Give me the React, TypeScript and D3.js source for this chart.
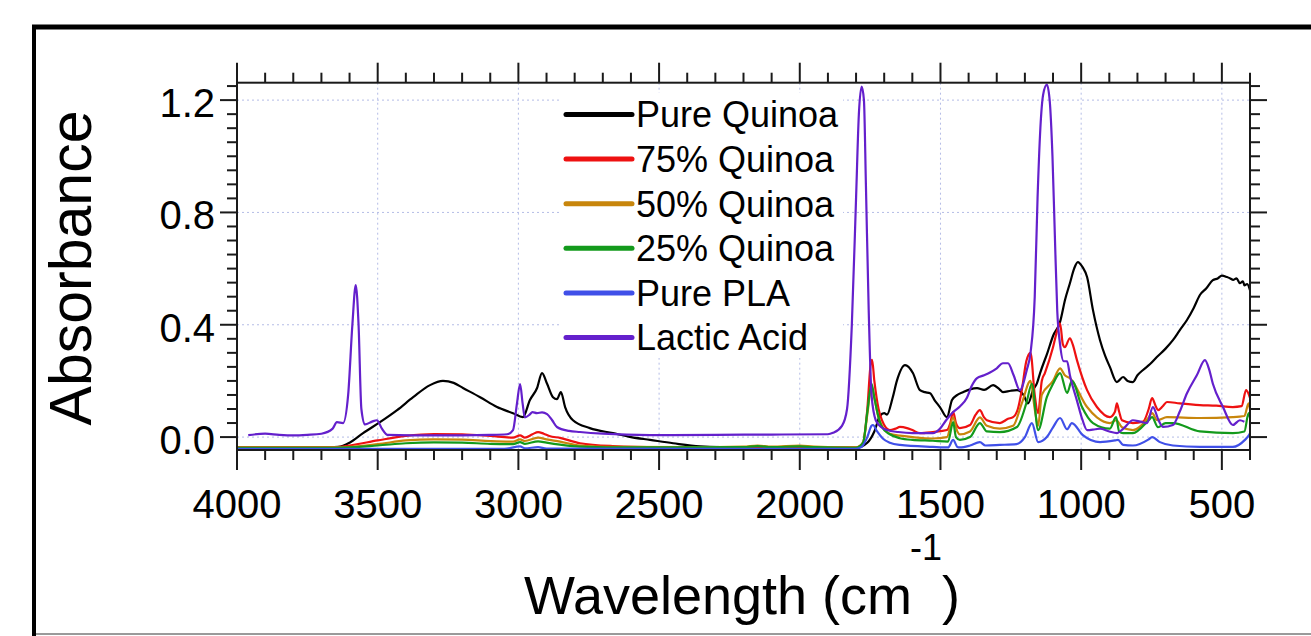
import React from 'react';
import * as d3 from 'd3';

// FTIR spectra: [wavenumber cm-1, absorbance]
const pureQuinoa: [number, number][] = [
  [4000, -0.037], [3700, -0.037], [3640, -0.035], [3600, -0.02], [3552, 0.014], [3492, 0.053],
  [3431, 0.096], [3374, 0.142], [3314, 0.185], [3268, 0.2], [3230, 0.193], [3197, 0.175],
  [3136, 0.142], [3076, 0.107], [3019, 0.085], [2984, 0.071], [2959, 0.132], [2934, 0.174],
  [2916, 0.228], [2898, 0.19], [2877, 0.142], [2863, 0.135], [2849, 0.16], [2834, 0.107],
  [2806, 0.06], [2746, 0.032], [2664, 0.014], [2600, 0.0], [2532, -0.01], [2450, -0.022],
  [2355, -0.033], [2200, -0.037], [1800, -0.038], [1760, -0.02], [1735, 0.02], [1715, 0.075],
  [1700, 0.085], [1690, 0.08], [1670, 0.14], [1655, 0.2], [1626, 0.256], [1598, 0.228],
  [1573, 0.167], [1555, 0.16], [1537, 0.156], [1520, 0.13], [1502, 0.107], [1477, 0.071],
  [1459, 0.132], [1440, 0.15], [1420, 0.16], [1395, 0.17], [1370, 0.174], [1345, 0.168],
  [1313, 0.185], [1290, 0.17], [1278, 0.16], [1250, 0.165], [1228, 0.167], [1205, 0.15],
  [1189, 0.12], [1170, 0.17], [1157, 0.192], [1146, 0.228], [1120, 0.3], [1100, 0.36],
  [1075, 0.41], [1057, 0.49], [1040, 0.548], [1025, 0.6], [1012, 0.623], [995, 0.605],
  [979, 0.57], [958, 0.452], [933, 0.345], [915, 0.29], [898, 0.25], [873, 0.196],
  [851, 0.214], [835, 0.2], [816, 0.196], [800, 0.22], [780, 0.239], [755, 0.26],
  [731, 0.285], [700, 0.315], [674, 0.345], [650, 0.38], [624, 0.417], [600, 0.46],
  [578, 0.506], [555, 0.53], [532, 0.559], [515, 0.565], [500, 0.575], [482, 0.57],
  [470, 0.565], [460, 0.56], [448, 0.565], [436, 0.548], [425, 0.555], [420, 0.54],
  [410, 0.545], [400, 0.523],
];

const quinoa75: [number, number][] = [
  [4000, -0.036], [3650, -0.036], [3600, -0.03], [3500, -0.012], [3400, 0.004], [3300, 0.011],
  [3200, 0.01], [3100, 0.004], [3019, -0.002], [2994, 0.006], [2977, -0.002], [2950, 0.01],
  [2930, 0.018], [2910, 0.012], [2890, 0.004], [2852, -0.003], [2781, -0.022], [2664, -0.032],
  [2500, -0.036], [2000, -0.037], [1800, -0.037], [1775, -0.02], [1760, 0.1], [1748, 0.26],
  [1743, 0.275], [1735, 0.2], [1720, 0.1], [1708, 0.06], [1680, 0.025], [1660, 0.03],
  [1644, 0.036], [1619, 0.032], [1600, 0.025], [1573, 0.014], [1527, 0.018], [1477, 0.025],
  [1465, 0.05], [1455, 0.09], [1445, 0.05], [1431, 0.032], [1395, 0.043], [1375, 0.08],
  [1360, 0.096], [1345, 0.07], [1335, 0.06], [1289, 0.05], [1260, 0.065], [1242, 0.071],
  [1225, 0.1], [1211, 0.167], [1195, 0.27], [1180, 0.3], [1165, 0.15], [1153, 0.085],
  [1140, 0.2], [1129, 0.228], [1100, 0.32], [1085, 0.38], [1075, 0.405], [1065, 0.33],
  [1058, 0.32], [1040, 0.352], [1030, 0.33], [1015, 0.274], [979, 0.167], [944, 0.107],
  [898, 0.071], [880, 0.09], [873, 0.12], [865, 0.09], [855, 0.06], [816, 0.05],
  [780, 0.055], [760, 0.1], [748, 0.139], [735, 0.11], [727, 0.096], [710, 0.11],
  [695, 0.125], [650, 0.12], [578, 0.114], [520, 0.112], [461, 0.107], [430, 0.11],
  [414, 0.167], [400, 0.14],
];

const quinoa50: [number, number][] = [
  [4000, -0.037], [3650, -0.037], [3500, -0.025], [3400, -0.012], [3300, -0.008], [3200, -0.009],
  [3100, -0.014], [3019, -0.016], [2994, -0.008], [2977, -0.014], [2930, -0.002], [2900, -0.008],
  [2852, -0.016], [2781, -0.03], [2664, -0.035], [2400, -0.036], [2200, -0.034], [2150, -0.03],
  [2100, -0.034], [2000, -0.03], [1950, -0.034], [1800, -0.037], [1775, -0.02], [1760, 0.08],
  [1745, 0.18], [1735, 0.14], [1720, 0.07], [1708, 0.04], [1680, 0.012], [1644, 0.005],
  [1600, 0.0], [1527, -0.005], [1477, 0.0], [1455, 0.07], [1440, 0.02], [1431, 0.01],
  [1395, 0.02], [1360, 0.07], [1335, 0.04], [1289, 0.03], [1242, 0.04], [1211, 0.12],
  [1180, 0.2], [1165, 0.1], [1153, 0.04], [1140, 0.15], [1100, 0.2], [1075, 0.245],
  [1058, 0.22], [1040, 0.21], [979, 0.107], [944, 0.07], [898, 0.05], [875, 0.06],
  [855, 0.035], [816, 0.025], [760, 0.07], [748, 0.085], [730, 0.06], [695, 0.071],
  [578, 0.068], [461, 0.071], [420, 0.075], [405, 0.12], [400, 0.1],
];

const quinoa25: [number, number][] = [
  [4000, -0.038], [3650, -0.038], [3500, -0.03], [3400, -0.022], [3300, -0.019], [3200, -0.02],
  [3100, -0.024], [3019, -0.025], [2994, -0.018], [2977, -0.024], [2930, -0.015], [2900, -0.02],
  [2852, -0.027], [2781, -0.034], [2600, -0.037], [2200, -0.036], [2150, -0.032], [2100, -0.036],
  [2000, -0.033], [1950, -0.036], [1800, -0.038], [1775, -0.02], [1760, 0.09], [1745, 0.19],
  [1735, 0.14], [1720, 0.07], [1708, 0.036], [1680, 0.01], [1644, -0.004], [1600, -0.01],
  [1527, -0.013], [1473, -0.016], [1455, 0.053], [1445, 0.0], [1431, -0.01], [1395, 0.0],
  [1360, 0.05], [1335, 0.02], [1289, 0.018], [1228, 0.036], [1195, 0.12], [1175, 0.19],
  [1153, 0.025], [1122, 0.142], [1100, 0.19], [1075, 0.228], [1050, 0.157], [1033, 0.2],
  [997, 0.107], [958, 0.05], [898, 0.03], [876, 0.071], [865, 0.02], [851, 0.014],
  [816, 0.014], [760, 0.06], [748, 0.071], [727, 0.035], [700, 0.05], [674, 0.05],
  [578, 0.02], [461, 0.014], [420, 0.02], [405, 0.085], [400, 0.07],
];

const purePLA: [number, number][] = [
  [4000, -0.042], [3050, -0.042], [2994, -0.033], [2977, -0.04], [2930, -0.036], [2900, -0.041],
  [1800, -0.042], [1780, -0.035], [1760, 0.0], [1745, 0.04], [1740, 0.043], [1725, 0.02],
  [1705, -0.005], [1680, -0.02], [1644, -0.028], [1527, -0.035], [1473, -0.037], [1455, -0.01],
  [1440, -0.035], [1431, -0.037], [1395, -0.03], [1360, -0.018], [1340, -0.03], [1289, -0.028],
  [1230, -0.025], [1200, 0.0], [1175, 0.05], [1153, -0.018], [1122, 0.0], [1100, 0.035],
  [1075, 0.068], [1050, 0.028], [1033, 0.05], [994, 0.007], [933, -0.018], [880, -0.012],
  [869, -0.01], [851, -0.028], [816, -0.03], [760, -0.008], [748, 0.0], [720, -0.018],
  [674, -0.03], [578, -0.035], [461, -0.035], [418, -0.01], [405, 0.005], [400, 0.014],
];

const lacticAcid: [number, number][] = [
  [3960, 0.007], [3900, 0.012], [3850, 0.008], [3800, 0.006], [3750, 0.008], [3700, 0.012],
  [3660, 0.03], [3645, 0.053], [3623, 0.05], [3605, 0.15], [3590, 0.4], [3578, 0.541],
  [3568, 0.4], [3558, 0.1], [3545, 0.045], [3520, 0.055], [3503, 0.06], [3485, 0.03],
  [3465, 0.008], [3300, 0.006], [3100, 0.008], [3040, 0.01], [3019, 0.025], [3005, 0.12],
  [2994, 0.189], [2985, 0.12], [2977, 0.07], [2960, 0.08], [2950, 0.089], [2934, 0.085],
  [2916, 0.088], [2898, 0.082], [2880, 0.06], [2863, 0.036], [2820, 0.022], [2781, 0.018],
  [2700, 0.012], [2532, 0.007], [2300, 0.008], [2100, 0.009], [1900, 0.01], [1882, 0.015],
  [1850, 0.04], [1832, 0.1], [1815, 0.4], [1800, 0.85], [1790, 1.15], [1780, 1.248],
  [1772, 1.2], [1765, 0.9], [1755, 0.45], [1745, 0.15], [1730, 0.06], [1710, 0.035],
  [1690, 0.025], [1650, 0.018], [1600, 0.014], [1527, 0.014], [1502, 0.03], [1480, 0.06],
  [1455, 0.089], [1430, 0.11], [1406, 0.14], [1390, 0.18], [1370, 0.21], [1345, 0.22],
  [1324, 0.23], [1300, 0.245], [1278, 0.263], [1260, 0.263], [1240, 0.22], [1218, 0.167],
  [1193, 0.24], [1180, 0.3], [1165, 0.5], [1155, 0.85], [1145, 1.1], [1135, 1.22],
  [1122, 1.255], [1112, 1.2], [1102, 1.0], [1093, 0.7], [1085, 0.45], [1075, 0.33],
  [1062, 0.27], [1050, 0.27], [1040, 0.22], [1015, 0.13], [995, 0.06], [979, 0.025],
  [950, 0.028], [933, 0.03], [900, 0.02], [873, 0.014], [850, 0.03], [816, 0.06],
  [790, 0.055], [766, 0.05], [745, 0.107], [725, 0.06], [709, 0.036], [674, 0.043],
  [650, 0.09], [624, 0.156], [589, 0.22], [560, 0.274], [545, 0.24], [532, 0.19],
  [496, 0.107], [461, 0.043], [436, 0.06], [420, 0.055],
];

const seriesNames = ['Pure Quinoa', '75% Quinoa', '50% Quinoa', '25% Quinoa', 'Pure PLA', 'Lactic Acid'];
const seriesData = [pureQuinoa, quinoa75, quinoa50, quinoa25, purePLA, lacticAcid];
const seriesColors = ['#000000', '#ee1111', '#c8860c', '#139a1c', '#4050e8', '#6420cc'];

const xTickLabels = [4000, 3500, 3000, 2500, 2000, 1500, 1000, 500];
const yTickLabels = [0.0, 0.4, 0.8, 1.2];

const W = 1311;
const H = 636;
const font = '"Liberation Sans", Arial, Helvetica, sans-serif';

export default function App() {
  const left = 237, right = 1250, top = 82.7, bottom = 450;
  const x = d3.scaleLinear().domain([4000, 400]).range([left, right]);
  const y = d3.scaleLinear().domain([-0.046, 1.262]).range([bottom, top]);

  const line = d3.line<[number, number]>()
    .x(d => x(d[0]))
    .y(d => y(d[1]))
    .curve(d3.curveMonotoneX);

  const xMinor = d3.range(4000, 399, -100);
  const yMinor = d3.range(0, 1.26, 0.05);
  const isMajorX = (v: number) => v % 500 === 0;
  const isMajorY = (v: number) => Math.abs(v / 0.4 - Math.round(v / 0.4)) < 1e-6;

  const grid = '#b4bce6';
  const axisColor = '#1a1a1a';

  return (
    <svg width={W} height={H} style={{ position: 'absolute', left: 0, top: 0, background: '#fff' }}>
      <rect x={0} y={0} width={W} height={H} fill="#fff" />
      {/* outer frame */}
      <line x1={32} x2={W} y1={27} y2={27} stroke="#000" strokeWidth={5} />
      <line x1={34} x2={34} y1={25} y2={H} stroke="#000" strokeWidth={4} />
      <line x1={36} x2={W} y1={634} y2={634} stroke="#9a9a9a" strokeWidth={2} />

      <defs>
        <clipPath id="plot">
          <rect x={left} y={top} width={right - left} height={bottom - top} />
        </clipPath>
      </defs>

      {/* grid */}
      {xTickLabels.filter(v => v !== 4000).map(v => (
        <line key={'gx' + v} x1={x(v)} x2={x(v)} y1={top} y2={bottom} stroke={grid} strokeWidth={1} strokeDasharray="2,3" />
      ))}
      {yTickLabels.map(v => (
        <line key={'gy' + v} x1={left} x2={right} y1={y(v)} y2={y(v)} stroke={grid} strokeWidth={1} strokeDasharray="2,3" />
      ))}

      {/* legend background */}
      <rect x={562} y={93} width={281} height={265} fill="#fff" />

      {/* spectra */}
      <g clipPath="url(#plot)" fill="none" strokeWidth={2.2} strokeLinejoin="round">
        {seriesData.map((s, i) => (
          <path key={seriesNames[i]} d={line(s) || ''} stroke={seriesColors[i]} />
        ))}
      </g>

      {/* axes box */}
      <rect x={left} y={top} width={right - left} height={bottom - top} fill="none" stroke={axisColor} strokeWidth={2} />

      {/* x ticks top & bottom */}
      {xMinor.map(v => {
        const len = isMajorX(v) ? 20 : 10;
        return (
          <g key={'tx' + v} stroke={axisColor} strokeWidth={2}>
            <line x1={x(v)} x2={x(v)} y1={bottom} y2={bottom + len} />
            <line x1={x(v)} x2={x(v)} y1={top} y2={top - len} />
          </g>
        );
      })}
      {/* y ticks left & right */}
      {yMinor.map(v => {
        const len = isMajorY(v) ? 17 : 10;
        return (
          <g key={'ty' + v.toFixed(2)} stroke={axisColor} strokeWidth={2}>
            <line x1={left} x2={left - len} y1={y(v)} y2={y(v)} />
            <line x1={right} x2={right + len} y1={y(v)} y2={y(v)} />
          </g>
        );
      })}

      {/* tick labels */}
      <g fontFamily={font} fontSize={40} fill="#000">
        {xTickLabels.map(v => (
          <text key={'lx' + v} x={x(v)} y={518} textAnchor="middle">{d3.format('d')(v)}</text>
        ))}
        {yTickLabels.map(v => (
          <text key={'ly' + v} x={215} y={y(v) + 17} textAnchor="end">{d3.format('.1f')(v)}</text>
        ))}
      </g>

      {/* axis titles */}
      <text fontFamily={font} fontSize={59} transform="translate(91,268) rotate(-90)" textAnchor="middle">Absorbance</text>
      <text fontFamily={font} fontSize={54} x={742} y={614} textAnchor="middle">
        Wavelength (cm<tspan fontSize={36} dx={-2} dy={-54}>-1</tspan><tspan dy={54}>)</tspan>
      </text>

      {/* legend */}
      <g fontFamily={font} fontSize={36}>
        {seriesNames.map((n, i) => {
          const cy = 114.5 + i * 44.6;
          return (
            <g key={'lg' + n}>
              <line x1={566} x2={632} y1={cy} y2={cy} stroke={seriesColors[i]} strokeWidth={5} strokeLinecap="round" />
              <text x={636} y={cy + 12.8} fill="#000">{n}</text>
            </g>
          );
        })}
      </g>
    </svg>
  );
}
